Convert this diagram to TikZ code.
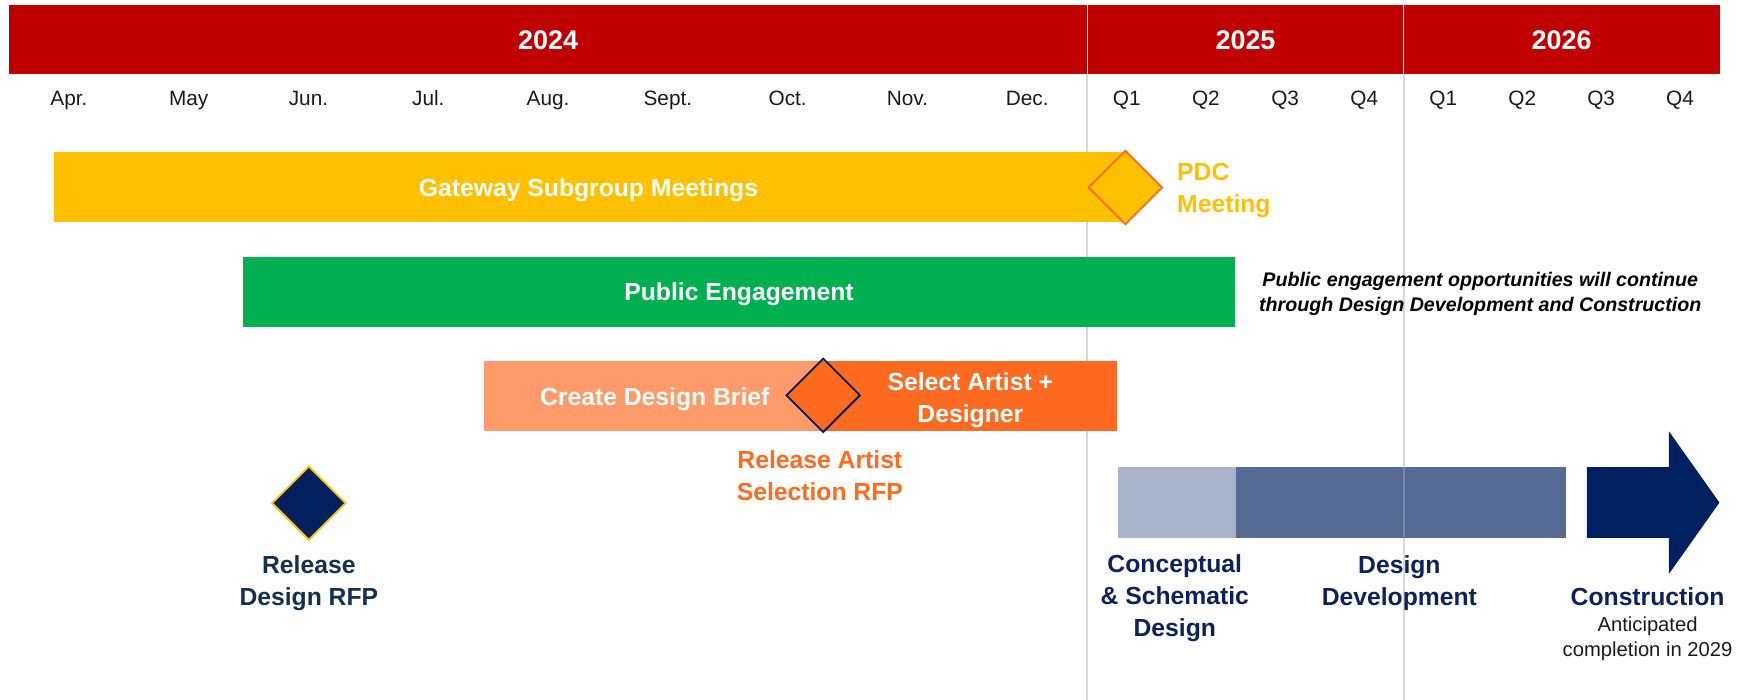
\documentclass[tikz,border=0pt]{standalone}
\usepackage{fontspec}
\setmainfont{Liberation Sans}
\usetikzlibrary{shapes.geometric}
\definecolor{hdrred}{HTML}{C00000}
\definecolor{gold}{HTML}{FFC000}
\definecolor{pegreen}{HTML}{00B050}
\definecolor{salmon}{HTML}{FF9B6A}
\definecolor{orng}{HTML}{FF6A21}
\definecolor{navy}{HTML}{002060}
\definecolor{lblnavy}{HTML}{0B2160}
\definecolor{rfpnavy}{HTML}{13304F}
\definecolor{steellt}{HTML}{A8B3CA}
\definecolor{steel}{HTML}{556A94}
\definecolor{gridgrey}{HTML}{D9D6D3}
\definecolor{ink}{HTML}{1A1A1A}
\begin{document}
\begin{tikzpicture}[x=1pt,y=-1pt,
  yearlbl/.style={text=white,font=\fontsize{24}{28}\selectfont\bfseries,anchor=base,inner sep=0},
  month/.style={text=ink,font=\fontsize{18.5}{22}\selectfont,anchor=base,inner sep=0},
  bar/.style={draw=none,rectangle,inner sep=0},
  lbl/.style={font=\fontsize{22}{28.5}\selectfont\bfseries,anchor=base,inner sep=0,align=center},
  msdiamond/.style={diamond,aspect=1,minimum width=66,minimum height=66,inner sep=0,line width=1.6pt},
  grid/.style={draw=gridgrey,line width=1.2pt}
]
\useasboundingbox (0,0) rectangle (1568,623);
% header
\node[bar,fill=hdrred,minimum width=1523,minimum height=62,anchor=north west] (hdr) at (8,4) {};
\coordinate (s1top) at (968,4);
\coordinate (s1bot) at (968,623);
\coordinate (s2top) at (1250,4);
\coordinate (s2bot) at (1250,623);
\draw[grid] (968,66) -- (s1bot);
\draw[grid] (1250,66) -- (s2bot);
\draw[white,line width=1pt] (s1top) -- (968,66);
\draw[white,line width=1pt] (s2top) -- (1250,66);
\node[yearlbl] (y24) at (488,44.5) {2024};
\node[yearlbl] (y25) at (1109,44.5) {2025};
\node[yearlbl] (y26) at (1390.5,44.5) {2026};
\foreach \t [count=\i] in {Apr.,May,Jun.,Jul.,Aug.,Sept.,Oct.,Nov.,Dec.}
  \node[month] (m\i) at ({8+106.667*(\i-0.5)},93.7) {\t};
\foreach \t [count=\i] in {Q1,Q2,Q3,Q4}
  \node[month] (qa\i) at ({968+70.5*(\i-0.5)},93.7) {\t};
\foreach \t [count=\i] in {Q1,Q2,Q3,Q4}
  \node[month] (qb\i) at ({1250+70.25*(\i-0.5)},93.7) {\t};
% gateway
\node[bar,fill=gold,minimum width=955,minimum height=63] (gw) at (525.5,166.5) {};
\node[lbl,text=white] (gwl) at (524,175) {Gateway Subgroup Meetings};
\node[msdiamond,fill=gold,draw=orng] (pdc) at (1002,167) {};
\node[lbl,text=gold,anchor=base west,align=left] (pdcl) at (1048,189) {PDC\\Meeting};
% public engagement
\node[bar,fill=pegreen,minimum width=884,minimum height=62] (pe) at (658,260) {};
\node[lbl,text=white] (pel) at (658,268) {Public Engagement};
\node[font=\fontsize{17.5}{22}\selectfont\bfseries\itshape,text=black,align=center,anchor=base,inner sep=0] (note) at (1318,277)
  {Public engagement opportunities will continue\\through Design Development and Construction};
% design brief
\node[bar,fill=salmon,minimum width=302,minimum height=63] (brief) at (582,352.5) {};
\node[bar,fill=orng,minimum width=262,minimum height=63] (sel) at (864,352.5) {};
\node[lbl,text=white] (briefl) at (583,361) {Create Design Brief};
\node[lbl,text=white] (sell) at (864,376) {Select Artist +\\Designer};
\node[msdiamond,fill=orng,draw=navy] (ars) at (733,352) {};
\node[lbl,text=orng] (arsl) at (730,446) {Release Artist\\Selection RFP};
% release design RFP
\node[msdiamond,fill=navy,draw=gold] (rfp) at (275,448) {};
\node[lbl,text=rfpnavy] (rfpl) at (275,539) {Release\\Design RFP};
% phases
\node[bar,fill=steellt,minimum width=105.5,minimum height=62.5,anchor=north west] (csd) at (995,416) {};
\node[bar,fill=steel,minimum width=294,minimum height=62.5,anchor=north west] (dd) at (1100.5,416) {};
\draw[grid,draw opacity=0.3] (1250,416) -- (1250,478.5);
\fill[navy] (1413,416) -- (1486,416) -- (1486,384) -- (1531,447.5) -- (1486,511) -- (1486,479) -- (1413,479) -- cycle;
\node[lbl,text=lblnavy] (csdl) at (1046,567) {Conceptual\\\& Schematic\\Design};
\node[lbl,text=lblnavy] (ddl) at (1246,539) {Design\\Development};
\node[lbl,text=lblnavy] (conl) at (1467,539) {Construction};
\node[font=\fontsize{18}{22}\selectfont,text=ink,align=center,anchor=base,inner sep=0] (antl) at (1467,584.5) {Anticipated\\completion in 2029};
\end{tikzpicture}
\end{document}
